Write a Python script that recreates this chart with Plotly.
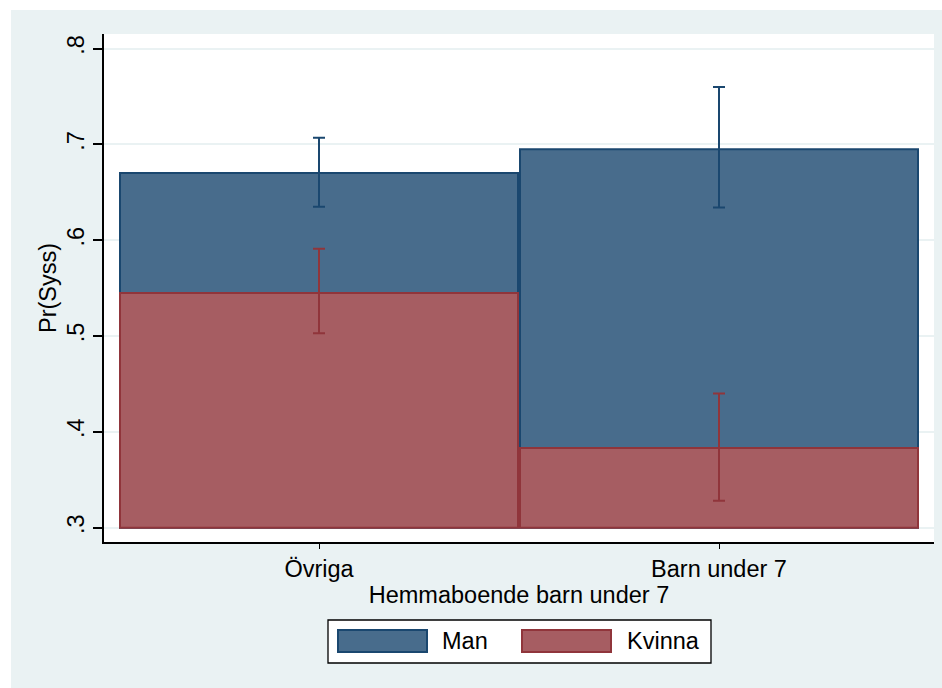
import plotly.graph_objects as go

categories = ["Övriga", "Barn under 7"]
man_values = [0.670, 0.695]
man_lower = [0.635, 0.634]
man_upper = [0.707, 0.760]
kvinna_values = [0.545, 0.383]
kvinna_lower = [0.503, 0.328]
kvinna_upper = [0.591, 0.440]
y_ticks = [0.3, 0.4, 0.5, 0.6, 0.7, 0.8]
y_ticklabels = [".3", ".4", ".5", ".6", ".7", ".8"]
base = 0.3

W, H = 942, 688
ML, MR, MT, MB = 104, 8, 34, 146
PW, PH = W - ML - MR, H - MT - MB

def px(x):
    return (x - ML) / PW

def py(y):
    return (H - MB - y) / PH

MAN_LINE = "#1A476F"
MAN_FILL = "#486C8C"
KV_LINE = "#90353B"
KV_FILL = "#A65D62"
BG = "#EAF2F3"
FONT = "Liberation Sans, Arial, sans-serif"
FS = 23.5

fig = go.Figure()
fig.add_trace(go.Bar(
    x=categories, y=[v - base for v in man_values], base=base,
    width=0.995, name="Man",
    marker=dict(color=MAN_FILL, line=dict(color=MAN_LINE, width=2)),
    error_y=dict(type="data", symmetric=False,
                 array=[u - v for u, v in zip(man_upper, man_values)],
                 arrayminus=[v - l for v, l in zip(man_values, man_lower)],
                 color=MAN_LINE, thickness=2, width=6),
))
fig.add_trace(go.Bar(
    x=categories, y=[v - base for v in kvinna_values], base=base,
    width=0.995, name="Kvinna",
    marker=dict(color=KV_FILL, line=dict(color=KV_LINE, width=2)),
    error_y=dict(type="data", symmetric=False,
                 array=[u - v for u, v in zip(kvinna_upper, kvinna_values)],
                 arrayminus=[v - l for v, l in zip(kvinna_values, kvinna_lower)],
                 color=KV_LINE, thickness=2, width=6),
))

shapes = [
    dict(type="rect", xref="paper", yref="paper", x0=px(0), x1=px(W), y0=py(10), y1=py(0),
         fillcolor="white", line=dict(width=0), layer="below"),
    dict(type="rect", xref="paper", yref="paper", x0=px(0), x1=px(11), y0=py(H), y1=py(0),
         fillcolor="white", line=dict(width=0), layer="below"),
    dict(type="rect", xref="paper", yref="paper", x0=px(328), x1=px(711), y0=py(663), y1=py(620),
         fillcolor="white", line=dict(color="black", width=1.3)),
    dict(type="rect", xref="paper", yref="paper", x0=px(338), x1=px(427), y0=py(652), y1=py(630),
         fillcolor=MAN_FILL, line=dict(color=MAN_LINE, width=2)),
    dict(type="rect", xref="paper", yref="paper", x0=px(522), x1=px(611), y0=py(652), y1=py(630),
         fillcolor=KV_FILL, line=dict(color=KV_LINE, width=2)),
]
annotations = [
    dict(text="Man", xref="paper", yref="paper", x=px(440), y=py(641), xanchor="left", yanchor="middle",
         showarrow=False, font=dict(family=FONT, size=FS, color="black")),
    dict(text="Kvinna", xref="paper", yref="paper", x=px(625), y=py(641), xanchor="left", yanchor="middle",
         showarrow=False, font=dict(family=FONT, size=FS, color="black")),
]

fig.update_layout(
    width=W, height=H, autosize=False,
    margin=dict(l=ML, r=MR, t=MT, b=MB),
    paper_bgcolor=BG, plot_bgcolor="white",
    barmode="overlay", showlegend=False,
    font=dict(family=FONT, size=FS, color="black"),
    shapes=shapes, annotations=annotations,
    xaxis=dict(
        type="category", categoryorder="array", categoryarray=categories,
        range=[-0.5375, 1.5375],
        showline=True, linecolor="black", linewidth=1.5,
        ticks="outside", ticklen=5, tickwidth=1, tickcolor="black",
        showgrid=False, zeroline=False,
        tickfont=dict(size=FS),
        title=dict(text="Hemmaboende barn under 7", font=dict(size=FS), standoff=0),
    ),
    yaxis=dict(
        range=[0.285, 0.8152],
        tickvals=y_ticks, ticktext=y_ticklabels, tickangle=-90,
        showline=True, linecolor="black", linewidth=1.5,
        ticks="outside", ticklen=9, tickwidth=1.5, tickcolor="black",
        showgrid=True, gridcolor=BG, gridwidth=1.5, zeroline=False,
        tickfont=dict(size=FS),
        title=dict(text="Pr(Syss)", font=dict(size=FS), standoff=0),
    ),
)

fig.write_html("out.html", config={"displayModeBar": False},
               post_script="document.body.style.margin='0';document.body.style.padding='0';")
